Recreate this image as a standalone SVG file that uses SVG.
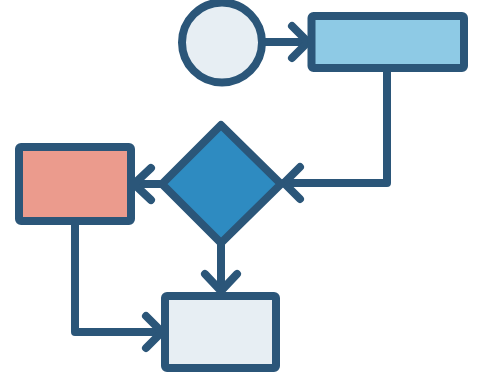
<svg xmlns="http://www.w3.org/2000/svg" width="480" height="380" viewBox="0 0 480 380">
<style>
.s{stroke:#2b5679;stroke-width:8;stroke-linejoin:round;stroke-linecap:round}
.c{fill:none}
</style>
<rect width="480" height="380" fill="#ffffff"/>
<g id="connectors" class="s c">
<path d="M262 42 H307"/>
<path d="M292 26 L308 42 L292 58"/>
<path d="M387 68 V183 H284"/>
<path d="M300 167 L284 183 L300 199"/>
<path d="M160 184 H134"/>
<path d="M151 168 L134 184 L151 200"/>
<path d="M75 221 V332 H162"/>
<path d="M146 316 L162 332 L146 348"/>
<path d="M221 245 V291"/>
<path d="M205 274 L221 291 L237 274"/>
</g>
<g id="start"><circle class="s" cx="222" cy="42.5" r="40" fill="#e7eef3"/></g>
<g id="process1"><rect class="s" x="311.5" y="16" width="152.5" height="52" rx="2" fill="#8ecae5"/></g>
<g id="decision"><polygon class="s" points="221,125 281,184 221,243 162,184" fill="#2e8bc1"/></g>
<g id="process2"><rect class="s" x="19" y="147" width="112" height="74" rx="2" fill="#eb9b8d"/></g>
<g id="end"><rect class="s" x="165" y="296" width="111" height="72" rx="2" fill="#e7eef3"/></g>
</svg>
